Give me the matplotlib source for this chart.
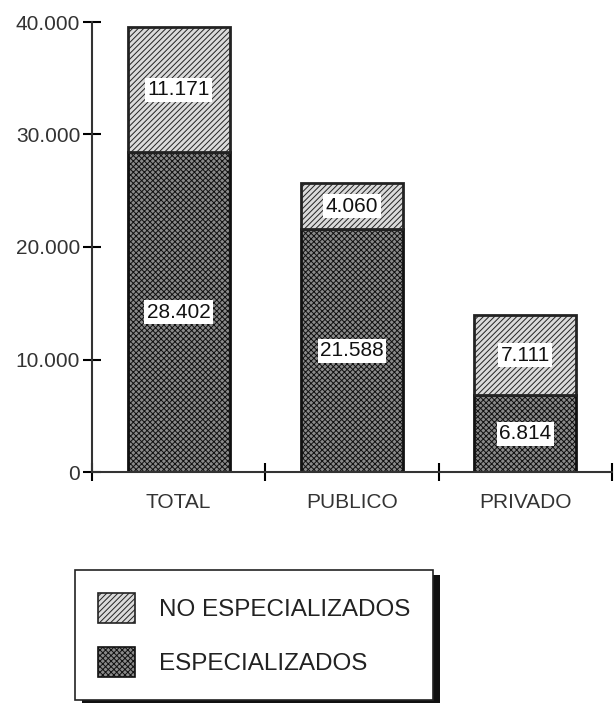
import matplotlib
matplotlib.use('Agg')
import matplotlib.pyplot as plt
from matplotlib.patches import Patch, Rectangle
import numpy as np

# data
categories = ["TOTAL", "PUBLICO", "PRIVADO"]
especializados = [28402, 21588, 6814]
no_especializados = [11171, 4060, 7111]
yticks = [0, 10000, 20000, 30000, 40000]
ytick_labels = ["0", "10.000", "20.000", "30.000", "40.000"]

plt.rcParams['font.family'] = ['Liberation Sans', 'DejaVu Sans']
plt.rcParams['hatch.linewidth'] = 0.7

def fmt(v):
    return f"{v:,}".replace(",", ".")

fig = plt.figure(figsize=(6.16, 7.03), dpi=100)
ax = fig.add_axes([92/616, 231/703, 520/616, 450/703])

x = np.arange(len(categories)) + 0.5
w = 0.59
dark_style = dict(facecolor="#8a8a8a", edgecolor="#111111", hatch="xxxxxx", linewidth=2)
light_style = dict(facecolor="#dadada", edgecolor="#222222", hatch="//////", linewidth=2)

ax.bar(x, especializados, w, **dark_style)
ax.bar(x, no_especializados, w, bottom=especializados, **light_style)

box = dict(boxstyle="square,pad=0.12", facecolor="white", edgecolor="none")
for xi, e, n in zip(x, especializados, no_especializados):
    ax.text(xi, e / 2, fmt(e), ha="center", va="center", fontsize=15,
            color="#111", bbox=box)
    ax.text(xi, e + n / 2, fmt(n), ha="center", va="center", fontsize=15,
            color="#111", bbox=box)

ax.set_xlim(0, 3)
ax.set_ylim(0, 40000)
ax.set_yticks(yticks)
ax.set_yticklabels(ytick_labels, fontsize=15, color="#333")
ax.set_xticks([0, 1, 2, 3])
ax.set_xticklabels([])
ax.set_xticks(x, minor=True)
ax.set_xticklabels(categories, minor=True, fontsize=15, color="#333")
ax.tick_params(axis="y", direction="inout", length=13, width=1.5, pad=2)
ax.tick_params(axis="x", which="major", direction="inout", length=13, width=1.5)
ax.tick_params(axis="x", which="minor", length=0, pad=15)
for s in ["top", "right"]:
    ax.spines[s].set_visible(False)
for s in ["left", "bottom"]:
    ax.spines[s].set_linewidth(1.5)
    ax.spines[s].set_color("#333")

handles = [Patch(**light_style), Patch(**dark_style)]
handles[0].set_linewidth(1.2)
handles[1].set_linewidth(1.2)
leg = fig.legend(handles, ["NO ESPECIALIZADOS", "ESPECIALIZADOS"],
                 loc="lower left", bbox_to_anchor=(75/616, 3/703),
                 fontsize=17.5, frameon=True, fancybox=False, edgecolor="#222",
                 framealpha=1, facecolor="white",
                 handlelength=1.5, handleheight=1.5, handletextpad=1.0,
                 labelspacing=1.0, borderpad=0.95, borderaxespad=0)
leg.get_frame().set_linewidth(1.2)
for t in leg.get_texts():
    t.set_color("#222")

fig.canvas.draw()
bb = leg.get_window_extent().transformed(fig.transFigure.inverted())
dx, dy = 7/616, 5/703
fig.patches.append(Rectangle((bb.x0 + dx, bb.y0 - dy), bb.width, bb.height,
                             transform=fig.transFigure, facecolor="#111",
                             edgecolor="none", zorder=0))
leg.set_zorder(5)

fig.savefig("out.png", dpi=100)
